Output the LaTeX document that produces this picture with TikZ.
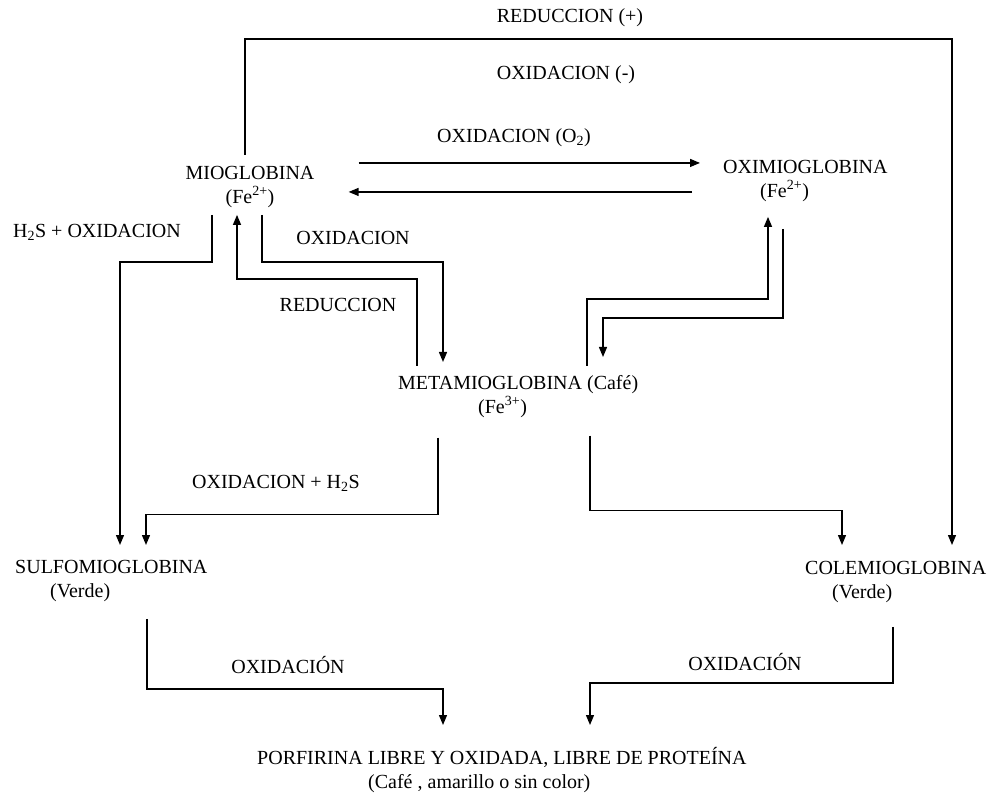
\documentclass[tikz,border=0pt]{standalone}
\usepackage{fontspec}
\setmainfont{Liberation Serif}
\usetikzlibrary{arrows.meta}

\begin{document}
\begin{tikzpicture}[x=1pt, y=-1pt,
    font=\fontsize{20}{24}\selectfont,
    chem/.style={inner sep=0pt, align=left, anchor=north west},
    lbl/.style={inner sep=0pt},
    flow/.style={line width=1.3pt, -{Triangle[length=10pt,width=8pt]}}]
  \useasboundingbox (0,0) rectangle (991,794);
  % substances
  \node[chem, align=center, anchor=north] (mio) at (250,166) {MIOGLOBINA\\(Fe\textsuperscript{2+})};
  \node[chem] (oxi) at (723,160) {OXIMIOGLOBINA\\\hspace*{37pt}(Fe\textsuperscript{2+})};
  \node[chem] (met) at (398,375) {METAMIOGLOBINA (Café)\\\hspace*{80pt}(Fe\textsuperscript{3+})};
  \node[chem] (sulfo) at (15,560) {SULFOMIOGLOBINA\\\hspace*{35pt}(Verde)};
  \node[chem] (cole) at (805,561) {COLEMIOGLOBINA\\\hspace*{27pt}(Verde)};
  \node[chem] (porf) at (257,747) {PORFIRINA LIBRE Y OXIDADA, LIBRE DE PROTEÍNA\\\hspace*{111pt}(Café , amarillo o sin color)};
  % labels
  \node[lbl] (redmas) at (570,18) {REDUCCION (+)};
  \node[lbl] (oxmenos) at (566,75) {OXIDACION (-)};
  \node[lbl] (oxo) at (514,138) {OXIDACION (O\textsubscript{2})};
  \node[lbl] (hsox) at (97,232) {H\textsubscript{2}S + OXIDACION};
  \node[lbl] (oxmet) at (353,238) {OXIDACION};
  \node[lbl] (redmio) at (338,305) {REDUCCION};
  \node[lbl] (oxhs) at (276,483) {OXIDACION + H\textsubscript{2}S};
  \node[lbl] (oxsulfo) at (288,665) {OXIDACIÓN};
  \node[lbl] (oxcole) at (745,662) {OXIDACIÓN};
  % connectors
  \draw[flow] ([xshift=-5pt,yshift=11pt]mio.north) -- ++(0,-116) -| ([xshift=147pt,yshift=16pt]cole.north west);
  \draw[flow] ([xshift=44pt,yshift=24pt]mio.east) -- ([xshift=-23pt,yshift=18pt]oxi.west);
  \draw[flow] ([xshift=-31pt,yshift=-11pt]oxi.west) -- ([xshift=34pt,yshift=-5pt]mio.east);
  \draw[flow] ([xshift=-38pt,yshift=-7pt]mio.south) -- ++(0,47) -| ([xshift=105pt,yshift=15pt]sulfo.north west);
  \draw[flow] ([xshift=19pt,yshift=9pt]met.north west) -- ++(0,-87) -| ([xshift=-13pt,yshift=-7pt]mio.south);
  \draw[flow] ([xshift=12pt,yshift=-7pt]mio.south) -- ++(0,47) -| ([xshift=45pt,yshift=13pt]met.north west);
  \draw[flow] ([xshift=189pt,yshift=9pt]met.north west) -- ++(0,-67) -| ([xshift=45pt,yshift=-15pt]oxi.south west);
  \draw[flow] ([xshift=60pt,yshift=-27pt]oxi.south west) -- ++(0,89) -| ([xshift=205pt,yshift=18pt]met.north west);
  \draw[flow] ([xshift=40pt,yshift=-20pt]met.south west) -- ++(0,77) -| ([xshift=131pt,yshift=15pt]sulfo.north west);
  \draw[flow] ([xshift=192pt,yshift=-18pt]met.south west) -- ++(0,75) -| ([xshift=37pt,yshift=16pt]cole.north west);
  \draw[flow] ([xshift=132pt,yshift=-17pt]sulfo.south west) -- ++(0,70) -| ([xshift=186pt,yshift=22pt]porf.north west);
  \draw[flow] ([xshift=88pt,yshift=-24pt]cole.south west) -- ++(0,56) -| ([xshift=333pt,yshift=22pt]porf.north west);
\end{tikzpicture}
\end{document}
